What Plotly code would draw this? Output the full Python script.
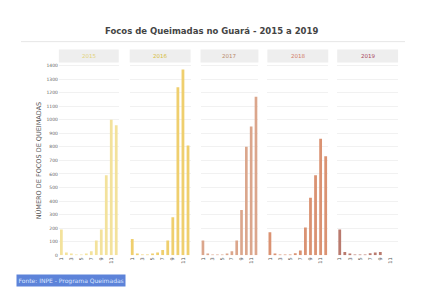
import plotly.graph_objects as go

years = ["2015", "2016", "2017", "2018", "2019"]
months = ["1", "2", "3", "4", "5", "6", "7", "8", "9", "10", "11", "12"]
focos_2015 = [190, 20, 10, 5, 5, 10, 30, 110, 190, 590, 1000, 960]
focos_2016 = [120, 10, 5, 5, 10, 20, 40, 110, 280, 1240, 1370, 810]
focos_2017 = [110, 10, 5, 5, 5, 10, 30, 110, 335, 800, 950, 1170]
focos_2018 = [170, 10, 5, 5, 5, 15, 35, 205, 425, 590, 860, 730]
focos_2019 = [190, 25, 8, 5, 3, 5, 15, 20, 25, None, None, None]
series = [focos_2015, focos_2016, focos_2017, focos_2018, focos_2019]
tick_labels = ["1", "3", "5", "7", "9", "11"]
title_text = "Focos de Queimadas no Guará - 2015 a 2019"
y_title = "NÚMERO DE FOCOS DE QUEIMADAS"
source_text = "Fonte: INPE - Programa Queimadas"

OFF = 8  # page body margin
W, H = 423 - OFF, 289 - OFF
bar_colors = ["#f3e29c", "#efcf6e", "#dba68c", "#da9272", "#b97a6e"]
head_colors = ["#e2d27a", "#d6bd3c", "#b98a6c", "#d27a66", "#a8445a"]
panels_px = [(58, 118), (129, 190), (200, 258), (267, 328), (337, 398)]
y_bot_px, y_top_px = 258, 63

def px_x(p):
    return (p - OFF) / W

def px_y(p):
    return 1 - (p - OFF) / H

fig = go.Figure()
shapes = []
annotations = []
for i, (yr, vals) in enumerate(zip(years, series)):
    sfx = "" if i == 0 else str(i + 1)
    fig.add_trace(go.Bar(
        x=months, y=vals, xaxis="x" + sfx, yaxis="y" + sfx,
        marker=dict(color=bar_colors[i], line=dict(width=0)),
        showlegend=False, name=yr))
    x0, x1 = panels_px[i]
    dom = [px_x(x0), px_x(x1)]
    fig.layout["xaxis" + sfx] = dict(
        domain=dom, anchor="y" + sfx, type="category",
        tickmode="array", tickvals=tick_labels, ticktext=tick_labels,
        tickangle=-90, tickfont=dict(size=5, color="#555", family="DejaVu Sans"),
        showgrid=False, zeroline=False, showline=False, ticks="")
    fig.layout["yaxis" + sfx] = dict(
        domain=[px_y(y_bot_px), px_y(y_top_px)], anchor="x" + sfx,
        range=[0, 1423], dtick=100, showgrid=True, gridcolor="#f1f1f1", gridwidth=1,
        zeroline=False, showticklabels=(i == 0),
        tickfont=dict(size=4.5, color="#666", family="DejaVu Sans"))
    shapes.append(dict(type="rect", xref="paper", yref="paper",
                       x0=px_x(x0), x1=px_x(x1), y0=px_y(63), y1=px_y(50),
                       fillcolor="#eeeeee", line=dict(width=0), layer="below"))
    annotations.append(dict(text=yr, xref="paper", yref="paper",
                            x=(px_x(x0) + px_x(x1)) / 2, y=px_y(56.5),
                            showarrow=False, xanchor="center", yanchor="middle",
                            font=dict(size=5.5, color=head_colors[i], family="DejaVu Sans")))

shapes.append(dict(type="line", xref="paper", yref="paper",
                   x0=px_x(20), x1=px_x(405), y0=px_y(42), y1=px_y(42),
                   line=dict(color="#e6e6e6", width=1)))
annotations.append(dict(text="<b>" + title_text + "</b>", xref="paper", yref="paper",
                        x=px_x(211), y=px_y(31), showarrow=False, xanchor="center", yanchor="middle",
                        font=dict(size=8.5, color="#444", family="DejaVu Sans")))
annotations.append(dict(text=y_title, xref="paper", yref="paper",
                        x=px_x(37), y=px_y(162), showarrow=False, textangle=-90,
                        xanchor="center", yanchor="middle",
                        font=dict(size=6.5, color="#555", family="DejaVu Sans")))
annotations.append(dict(text=source_text, xref="paper", yref="paper",
                        x=px_x(15), y=px_y(283), showarrow=False,
                        xanchor="left", yanchor="middle",
                        bgcolor="#5d83d9", borderpad=1.5,
                        font=dict(size=6, color="#dce6ff", family="DejaVu Sans")))

fig.update_layout(width=W, height=H, margin=dict(l=0, r=0, t=0, b=0),
                  paper_bgcolor="white", plot_bgcolor="white", bargap=0.45,
                  shapes=shapes, annotations=annotations)
fig.write_html("out.html")
